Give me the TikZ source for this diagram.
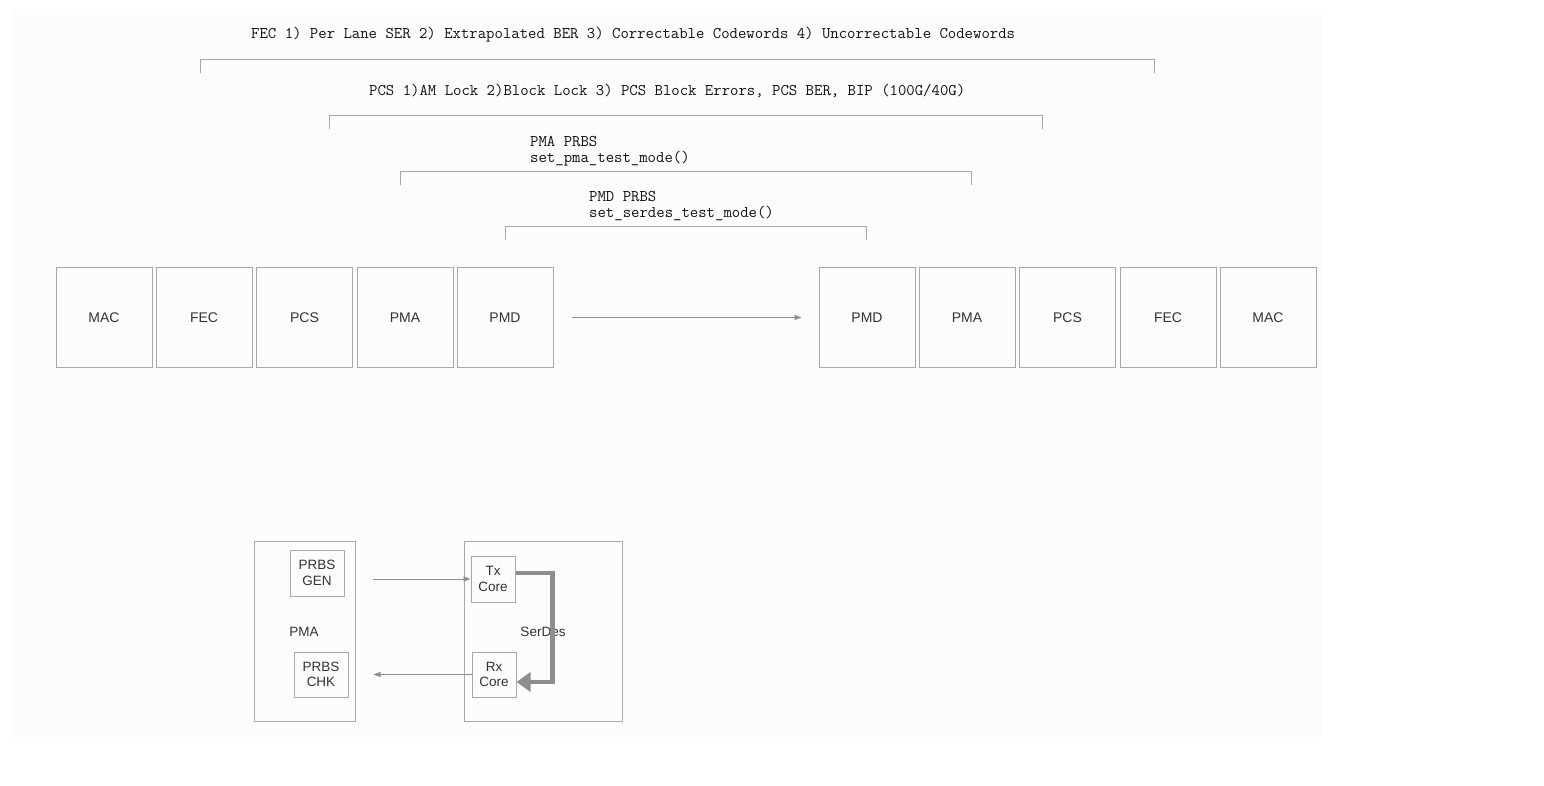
\documentclass[tikz,border=0pt]{standalone}
\usepackage{fontspec}
\setmainfont{Liberation Sans}
\usetikzlibrary{arrows.meta}
\definecolor{linegray}{HTML}{A8A8A8}
\definecolor{txtgray}{HTML}{333333}
\definecolor{codegray}{HTML}{111111}
\definecolor{arrowgray}{HTML}{8E8E8E}
\definecolor{panel}{HTML}{FCFCFC}
\tikzset{
  layer/.style={draw=linegray, line width=1pt, minimum width=96pt, minimum height=99pt, inner sep=0pt, text=txtgray, font=\fontsize{14}{16}\selectfont},
  blk/.style={draw=linegray, line width=1pt, inner sep=0pt, text=txtgray, align=center, font=\fontsize{13.5}{15.5}\selectfont},
  lbl/.style={text=txtgray, inner sep=0pt, font=\fontsize{13.5}{15.5}\selectfont},
  code/.style={text=codegray, anchor=west, inner sep=0pt, align=left, font=\ttfamily\fontsize{16.3}{16}\selectfont},
  brace/.style={draw=linegray, line width=1pt},
  link/.style={draw=arrowgray, line width=0.8pt, -{Triangle[length=7pt,width=5pt]}},
  loop/.style={draw=arrowgray, line width=4.5pt, -{Triangle[length=14pt,width=19pt]}}
}
\begin{document}
\begin{tikzpicture}[x=1pt,y=-1pt]
\useasboundingbox (0,0) rectangle (1544,786);
\fill[panel] (12,10) rectangle (1322,737);
\node[code] (fecTxt) at (251,35) {FEC 1) Per Lane SER 2) Extrapolated BER 3) Correctable Codewords 4) Uncorrectable Codewords};
\draw[brace] (200,73) |- (1154,60) -- (1154,73);
\node[code] (pcsTxt) at (369,91) {PCS 1)AM Lock 2)Block Lock 3) PCS Block Errors, PCS BER, BIP (100G/40G)};
\draw[brace] (329,129) |- (1042,116) -- (1042,129);
\node[code] (pmaTxt) at (530,151) {PMA PRBS\\set\_pma\_test\_mode()};
\draw[brace] (400,185) |- (971,172) -- (971,185);
\node[code] (pmdTxt) at (589,206.5) {PMD PRBS\\set\_serdes\_test\_mode()};
\draw[brace] (505,240) |- (866,227) -- (866,240);
\foreach \name/\x in {MAC/104,FEC/204,PCS/304.5,PMA/405,PMD/505}
  \node[layer] (l\name) at (\x,317.5) {\name};
\foreach \name/\x in {PMD/867,PMA/967,PCS/1067.5,FEC/1168,MAC/1268}
  \node[layer] (r\name) at (\x,317.5) {\name};
\draw[link] ([xshift=18pt]lPMD.east) -- ([xshift=-17pt]rPMD.west);
\node[blk, minimum width=101pt, minimum height=180pt] (pmaBlk) at (304.5,631) {};
\node[lbl] (pmaLbl) at (304,632) {PMA};
\node[blk, minimum width=54pt, minimum height=46pt] (gen) at (317,573) {PRBS\\GEN};
\node[blk, minimum width=54pt, minimum height=45pt] (chk) at (321,674.5) {PRBS\\CHK};
\node[blk, minimum width=158pt, minimum height=180pt] (serBlk) at (543,631) {};
\node[lbl] (serLbl) at (543,632) {SerDes};
\node[blk, minimum width=44pt, minimum height=46pt] (tx) at (493,579) {Tx\\Core};
\node[blk, minimum width=44pt, minimum height=45pt] (rx) at (494,674.5) {Rx\\Core};
\draw[link] ([xshift=28pt]gen.east |- tx.west) -- (tx.west);
\draw[link] (rx.west) -- ([xshift=25pt]chk.east |- rx.west);
\draw[loop] ([yshift=6pt]tx.east) -- ++(37,0) |- ([yshift=-7.5pt]rx.east);
\end{tikzpicture}
\end{document}
